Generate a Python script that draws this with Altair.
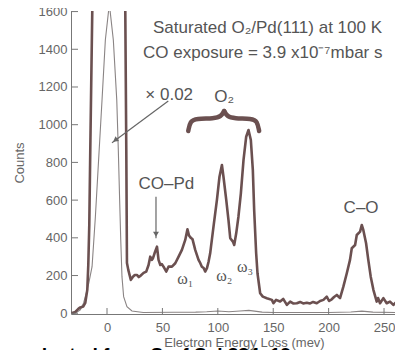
import altair as alt
import pandas as pd

# ---- data ----
thick_x = [-32.2, -28.6, -25.9, -24.1, -21.4, -19.6, -17.8, -16.9, -16.0, -15.1, -14.2, -13.3, -10, 2, 14,
           16.5, 17.4, 18.0, 19.2, 21.5, 23.4, 25.1, 27.0, 28.7, 30.0, 33.0, 35.4, 37.5, 39.0, 40.4, 41.5,
           42.9, 45.1, 46.5, 48.1, 49.4, 51.0, 53.5, 55.5, 58.6, 61.6, 64.6, 67.6, 70.6, 72.6, 74.0, 75.6,
           77.2, 79.6, 82.6, 84.1, 85.6, 87.2, 88.6, 90.2, 91.6, 93.1, 96.1, 99.2, 101.5, 103.7, 105.1,
           107.6, 109.6, 111.2, 113.6, 114.8, 116.6, 118.6, 120.8, 123.2, 125.6, 127.7, 129.8, 131.6,
           132.8, 134.6, 135.8, 138.2, 140.6, 144.2, 148.8, 150.2, 152.6, 156.2, 159.0, 162.3, 165.3,
           168.0, 171.3, 174.3, 177.0, 180.3, 183.3, 186.0, 189.3, 192.3, 195.3, 198.3, 200.4, 202.8,
           204.9, 207.4, 210.3, 213.3, 216.4, 219.3, 220.9, 223.9, 225.4, 228.4, 229.9, 231.3, 233.8,
           235.8, 238.0, 240.4, 243.4, 244.6, 246.4, 249.4, 252.4, 255.4, 258.4, 261.5, 264.4, 267.4, 270]
thick_y = [0, 7, 23, 31, 36, 55, 124, 256, 468, 866, 1237, 1603, 6000, 80000, 6000,
           1603, 866, 267, 230, 177, 194, 203, 203, 192, 198, 214, 221, 256, 300, 283, 292,
           318, 353, 283, 256, 261, 247, 221, 247, 247, 265, 300, 336, 389, 445, 412, 400,
           392, 336, 283, 267, 247, 240, 221, 239, 272, 318, 459, 601, 724, 786, 724,
           601, 495, 398, 380, 362, 424, 512, 636, 813, 936, 972, 919, 760,
           548, 318, 212, 106, 88, 80, 71, 53, 71, 62, 76, 44, 62,
           52, 53, 60, 52, 56, 52, 60, 53, 65, 71, 88, 65, 74,
           86, 97, 80, 141, 212, 283, 345, 362, 415, 433, 468, 442, 371,
           283, 194, 124, 62, 81, 53, 80, 53, 62, 44, 62, 53, 80, 60]

thin_x = [-32.2, -27.7, -24.1, -21.1, -18.7, -16.4, -13.5, -10.5, -8.1, -4.5, -1.5, 2.1, 5.7, 8.8, 10.2,
          11.4, 12.4, 13.5, 15.0, 18.0, 22.5, 32.7, 60, 80, 90, 100, 110, 120, 128, 140, 150, 200,
          220, 230, 240, 270]
thin_y = [-1, 4, 17.5, 55, 108, 161, 247, 512, 760, 1131, 1449, 1640, 1449, 1131, 866,
          601, 389, 194, 88, 35, 12, 4, 5, 6, 8, 12, 8, 12, 15, 6, 4, 4,
          7, 11, 6, 3]

brace_left_x = [73.3, 75.1, 80.5, 96.7, 103.0, 105.7]
brace_left_y = [966.6, 1019.6, 1032.9, 1032.9, 1043.5, 1072.6]
brace_right_x = [105.7, 108.4, 114.7, 130.9, 135.5, 137.3]
brace_right_y = [1072.6, 1043.5, 1032.9, 1032.9, 1019.6, 966.6]

y_ticks = [0, 200, 400, 600, 800, 1000, 1200, 1400, 1600]
x_ticks = [0, 50, 100, 150, 200, 250]

sans_labels = ["Saturated O\u2082/Pd(111) at 100 K", "CO exposure = 3.9 x10\u207b\u2077mbar s"]
sans_x = [248.2, 248.6]
sans_y = [1515, 1380]

center_labels = ["\u00d7 0.02", "O\u2082", "CO\u2013Pd", "C\u2013O"]
center_x = [56.1, 105.7, 53.6, 229.3]
center_y = [1157, 1147, 685.6, 558]

omega_labels = ["\u03c9\u2081", "\u03c9\u2082", "\u03c9\u2083"]
omega_x = [70.6, 105.8, 124.6]
omega_y = [182, 198, 245]

# arrows: (x, y) -> (x2, y2), tip at (x2, y2)
arrow_x = [55.3, 44.2]
arrow_y = [1125.7, 618]
arrow_x2 = [4.5, 44.2]
arrow_y2 = [904.6, 397.7]
head_x = [7.4, 44.2]
head_y = [917.5, 419]
head_angle = [233, 180]

credit = "adapted from Surf Sci 334, 19"

# ---- chart ----
W, H = 324, 303
FONT = "Liberation Sans"
BROWN = "#6b5050"
GRAY = "#555555"

xs = alt.Scale(domain=[-32.5, 259.9], nice=False, zero=False)
ys = alt.Scale(domain=[-4, 1603], nice=False, zero=False)
xaxis = alt.Axis(values=x_ticks, ticks=False, grid=False, labelPadding=7, format="d",
                 title="Electron Energy Loss (mev)", titlePadding=2, titleX=173)
yaxis = alt.Axis(values=y_ticks, ticks=False, grid=False, labelPadding=4, format="d",
                 title="Counts", titlePadding=12)
X = alt.X("x:Q", scale=xs, axis=xaxis)
Y = alt.Y("y:Q", scale=ys, axis=yaxis)

thick = alt.Chart(pd.DataFrame({"x": thick_x, "y": thick_y, "o": range(len(thick_x))})).mark_line(
    clip=True, color=BROWN, strokeWidth=2.6, strokeJoin="round").encode(x=X, y=Y, order="o:Q")
thin = alt.Chart(pd.DataFrame({"x": thin_x, "y": thin_y, "o": range(len(thin_x))})).mark_line(
    clip=True, color="#8a8484", strokeWidth=1.1).encode(x=X, y=Y, order="o:Q")

bl = alt.Chart(pd.DataFrame({"x": brace_left_x, "y": brace_left_y})).mark_line(
    color=BROWN, strokeWidth=4.5, interpolate="basis", strokeCap="round").encode(x=X, y=Y)
br = alt.Chart(pd.DataFrame({"x": brace_right_x, "y": brace_right_y})).mark_line(
    color=BROWN, strokeWidth=4.5, interpolate="basis", strokeCap="round").encode(x=X, y=Y)

ytk = alt.Chart(pd.DataFrame({"y": y_ticks})).mark_rule(color="#777777", strokeWidth=1).encode(
    y=Y, x=alt.value(0), x2=alt.value(7))
xtk = alt.Chart(pd.DataFrame({"x": x_ticks})).mark_rule(color="#777777", strokeWidth=1).encode(
    x=X, y=alt.value(H), y2=alt.value(H - 6))

arrows = alt.Chart(pd.DataFrame({"x": arrow_x, "y": arrow_y, "x2": arrow_x2, "y2": arrow_y2})).mark_rule(
    color="#666666", strokeWidth=1.2).encode(x=X, y=Y, x2="x2:Q", y2="y2:Q")
heads = alt.Chart(pd.DataFrame({"x": head_x, "y": head_y, "a": head_angle})).mark_point(
    shape="triangle-up", filled=True, size=35, color="#666666", opacity=1).encode(
    x=X, y=Y, angle=alt.Angle("a:Q", scale=None))

t_sans = alt.Chart(pd.DataFrame({"x": sans_x, "y": sans_y, "t": sans_labels})).mark_text(
    font=FONT, fontSize=17, align="right", baseline="middle", color=GRAY).encode(x=X, y=Y, text="t:N")
t_center = alt.Chart(pd.DataFrame({"x": center_x, "y": center_y, "t": center_labels})).mark_text(
    font=FONT, fontSize=17, align="center", baseline="middle", color=GRAY).encode(x=X, y=Y, text="t:N")
t_omega = alt.Chart(pd.DataFrame({"x": omega_x, "y": omega_y, "t": omega_labels})).mark_text(
    font="Liberation Serif", fontSize=16, align="center", baseline="middle", color=GRAY).encode(
    x=X, y=Y, text="t:N")
t_credit = alt.Chart(pd.DataFrame({"t": [credit]})).mark_text(
    font=FONT, fontSize=19, fontWeight="bold", align="left", baseline="alphabetic", color="#000000").encode(
    x=alt.value(-46), y=alt.value(349.7), text="t:N")

chart = alt.layer(thin, thick, bl, br, ytk, xtk, arrows, heads, t_sans, t_center, t_omega, t_credit).properties(
    width=W, height=H,
    autosize=alt.AutoSizeParams(type="none"),
    padding={"left": 63, "top": 3, "right": 0, "bottom": 36},
    background="white",
).configure_view(stroke=None).configure_axis(
    domainColor="#777777", domainWidth=1, labelFont=FONT, labelFontSize=13, labelColor="#666666",
    titleFont=FONT, titleFontSize=13, titleFontWeight="normal", titleColor="#666666",
)

chart.save("out.html", embed_options={"renderer": "svg", "actions": False})
